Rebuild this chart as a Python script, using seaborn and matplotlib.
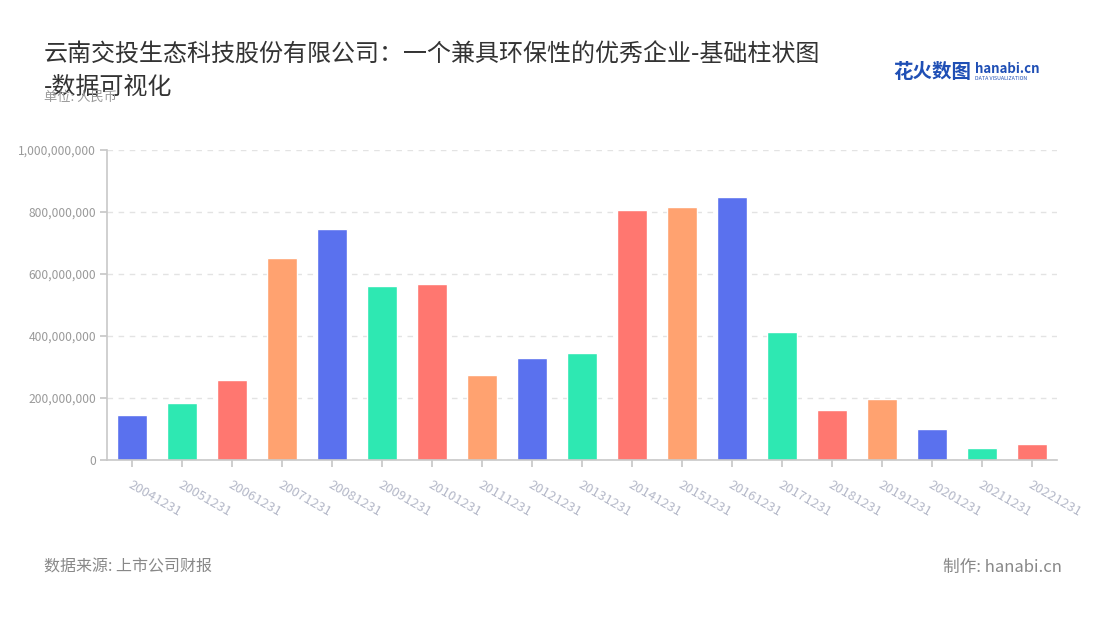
import numpy as np
import pandas as pd
import matplotlib
matplotlib.use("Agg")
import matplotlib.pyplot as plt
import matplotlib.ticker as mticker
import seaborn as sns

# データ
dates = ['20041231', '20051231', '20061231', '20071231', '20081231', '20091231',
         '20101231', '20111231', '20121231', '20131231', '20141231', '20151231',
         '20161231', '20171231', '20181231', '20191231', '20201231', '20211231',
         '20221231']
values = [145e6, 183e6, 258e6, 652e6, 745e6, 561e6,
          567e6, 274e6, 329e6, 345e6, 806e6, 817e6,
          850e6, 414e6, 160e6, 198e6, 101e6, 40e6,
          52e6]
base_colors = ['#5a71ee', '#2ee8b2', '#ff7770', '#ffa270']
colors = [base_colors[i % 4] for i in range(len(dates))]

df = pd.DataFrame({'date': dates, 'value': values})

sns.set_theme(style='white')
plt.rcParams['font.family'] = ['Noto Sans CJK SC', 'DejaVu Sans']

fig = plt.figure(figsize=(11, 6.2), dpi=100)
ax = fig.add_axes([107 / 1100, 1 - 460 / 620, 950 / 1100, 310 / 620])

sns.barplot(data=df, x='date', y='value', hue='date', palette=colors,
            width=0.6, legend=False, ax=ax, saturation=1)

ax.set_ylim(0, 1e9)
ax.set_xlim(-0.5, len(dates) - 0.5)
ax.yaxis.set_major_locator(mticker.MultipleLocator(2e8))
ax.yaxis.set_major_formatter(mticker.FuncFormatter(lambda v, p: f'{int(v):,}'))
ax.set_xlabel('')
ax.set_ylabel('')

# グリッド
ax.yaxis.grid(True, linestyle=(0, (4, 4)), color='#e3e3e3', linewidth=1)
ax.set_axisbelow(True)
for s in ['top', 'right']:
    ax.spines[s].set_visible(False)
for s in ['left', 'bottom']:
    ax.spines[s].set_color('#c8c8c8')
    ax.spines[s].set_linewidth(1.2)

ax.tick_params(axis='y', which='major', left=True, length=5, color='#c8c8c8',
               labelsize=8.7, labelcolor='#9a9a9a', pad=3)
ax.tick_params(axis='x', which='major', bottom=True, length=5, color='#c8c8c8',
               labelsize=9.5, labelcolor='#b4b8c8', pad=8)
plt.setp(ax.get_xticklabels(), rotation=-30, ha='left', va='top', rotation_mode='anchor')

# タイトル
fig.text(44 / 1100, 1 - 55 / 620, '云南交投生态科技股份有限公司：一个兼具环保性的优秀企业-基础柱状图',
         fontsize=17.3, color='#333333', va='center')
fig.text(44 / 1100, 1 - 87 / 620, '-数据可视化', fontsize=17.3, color='#333333', va='center')
fig.text(44 / 1100, 1 - 97 / 620, '单位: 人民币', fontsize=9.5, color='#9a9a9a', va='center')

# ロゴ
fig.text(893 / 1100, 1 - 72 / 620, '花火数图', fontsize=14, color='#1f4fb5',
         fontweight='bold', va='center')
fig.text(975 / 1100, 1 - 69 / 620, 'hanabi.cn', fontsize=9.5, color='#1f4fb5',
         fontweight='bold', va='center')
fig.text(975 / 1100, 1 - 79 / 620, 'DATA VISUALIZATION', fontsize=3.8, color='#1f4fb5',
         va='center')

# 出典
fig.text(44 / 1100, 1 - 567 / 620, '数据来源: 上市公司财报', fontsize=11.5, color='#888888', va='center')
fig.text(1062 / 1100, 1 - 567 / 620, '制作: hanabi.cn', fontsize=12, color='#888888',
         va='center', ha='right')

fig.savefig('out.png', dpi=100)
